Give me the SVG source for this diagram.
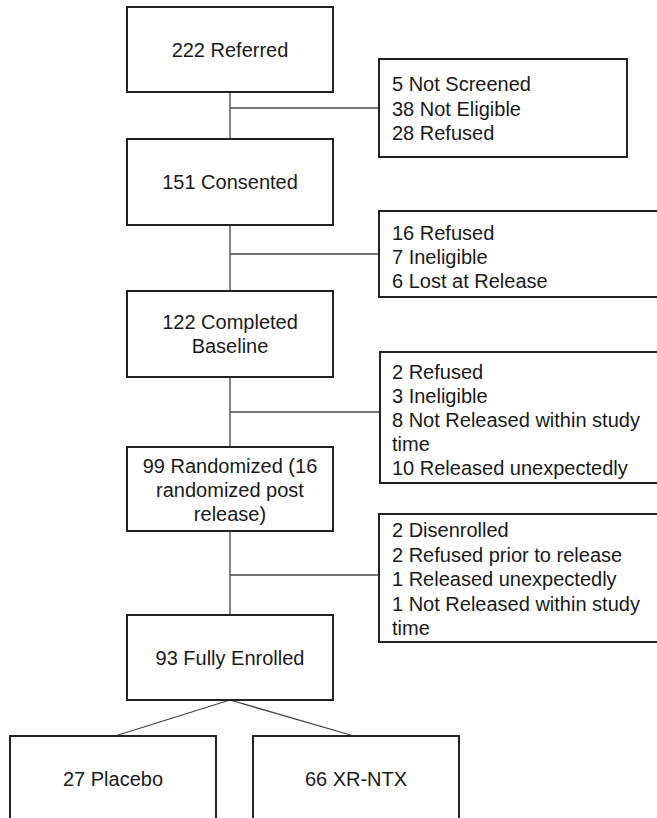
<svg xmlns="http://www.w3.org/2000/svg" width="657" height="818" viewBox="0 0 657 818">
<style>
.box{fill:#fff;stroke:#222;stroke-width:2}
.t{font-family:"Liberation Sans",Arial,sans-serif;font-size:20px;fill:#1a1a1a}
.c{text-anchor:middle}
.ln{stroke:#444;stroke-width:1.3;fill:none}
</style>
<rect width="657" height="818" fill="#fff"/>
<g id="connectors">
<line class="ln" x1="230" y1="92" x2="230" y2="615"/>
<line class="ln" x1="230" y1="108" x2="379" y2="108"/>
<line class="ln" x1="230" y1="254" x2="379" y2="254"/>
<line class="ln" x1="230" y1="412" x2="380" y2="412"/>
<line class="ln" x1="230" y1="575" x2="379" y2="575"/>
<line class="ln" x1="230" y1="700" x2="115" y2="736"/>
<line class="ln" x1="230" y1="700" x2="354" y2="736"/>
</g>
<g id="referred">
<rect class="box" x="127" y="7" width="206" height="85"/>
<text class="t c" x="230" y="57">222 Referred</text>
</g>
<g id="excluded1">
<rect class="box" x="379" y="59" width="248" height="98"/>
<text class="t" x="392" y="91">5 Not Screened</text>
<text class="t" x="392" y="115.5">38 Not Eligible</text>
<text class="t" x="392" y="140">28 Refused</text>
</g>
<g id="consented">
<rect class="box" x="127" y="139" width="206" height="86"/>
<text class="t c" x="230" y="189">151 Consented</text>
</g>
<g id="excluded2">
<rect class="box" x="379" y="211" width="290" height="86"/>
<text class="t" x="392" y="240">16 Refused</text>
<text class="t" x="392" y="264">7 Ineligible</text>
<text class="t" x="392" y="288">6 Lost at Release</text>
</g>
<g id="baseline">
<rect class="box" x="127" y="291" width="206" height="86"/>
<text class="t c" x="230" y="329">122 Completed</text>
<text class="t c" x="230" y="353">Baseline</text>
</g>
<g id="excluded3">
<rect class="box" x="380" y="352" width="290" height="131"/>
<text class="t" x="392" y="379">2 Refused</text>
<text class="t" x="392" y="403">3 Ineligible</text>
<text class="t" x="392" y="427">8 Not Released within study</text>
<text class="t" x="392" y="451">time</text>
<text class="t" x="392" y="475">10 Released unexpectedly</text>
</g>
<g id="randomized">
<rect class="box" x="127" y="447" width="206" height="84"/>
<text class="t c" x="230" y="472.5">99 Randomized (16</text>
<text class="t c" x="230" y="496.5">randomized post</text>
<text class="t c" x="230" y="520.5">release)</text>
</g>
<g id="excluded4">
<rect class="box" x="379" y="514" width="290" height="128"/>
<text class="t" x="392" y="537">2 Disenrolled</text>
<text class="t" x="392" y="561.5">2 Refused prior to release</text>
<text class="t" x="392" y="586">1 Released unexpectedly</text>
<text class="t" x="392" y="610.5">1 Not Released within study</text>
<text class="t" x="392" y="635">time</text>
</g>
<g id="enrolled">
<rect class="box" x="127" y="615" width="206" height="85"/>
<text class="t c" x="230" y="664.5">93 Fully Enrolled</text>
</g>
<g id="placebo">
<rect class="box" x="10" y="736" width="206" height="100"/>
<text class="t c" x="113" y="786">27 Placebo</text>
</g>
<g id="xrntx">
<rect class="box" x="253" y="736" width="206" height="100"/>
<text class="t c" x="356" y="786">66 XR-NTX</text>
</g>
</svg>
